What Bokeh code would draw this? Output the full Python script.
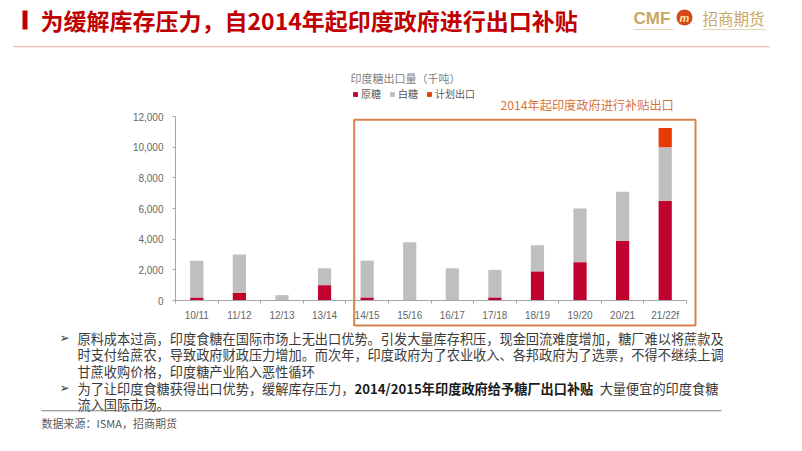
from bokeh.plotting import figure
from bokeh.models import Range1d, FixedTicker, Label, BoxAnnotation, ColumnDataSource
from bokeh.embed import file_html
from bokeh.resources import INLINE

# ---------------- data ----------------
categories = ["10/11", "11/12", "12/13", "13/14", "14/15", "15/16",
              "16/17", "17/18", "18/19", "19/20", "20/21", "21/22f"]
raw_sugar = [200, 500, 0, 1000, 200, 0, 0, 200, 1900, 2500, 3900, 6500]
white_sugar = [2400, 2500, 350, 1100, 2400, 3800, 2100, 1800, 1700, 3500, 3200, 3500]
planned_export = [0, 0, 0, 0, 0, 0, 0, 0, 0, 0, 0, 1250]
series_names = ["原糖", "白糖", "计划出口"]
y_ticks = [0, 2000, 4000, 6000, 8000, 10000, 12000]
y_tick_labels = ["0", "2,000", "4,000", "6,000", "8,000", "10,000", "12,000"]

title_text = "为缓解库存压力，自2014年起印度政府进行出口补贴"
chart_title = "印度糖出口量（千吨）"
box_note = "2014年起印度政府进行补贴出口"
bullet1_lines = ["原料成本过高，印度食糖在国际市场上无出口优势。引发大量库存积压，现金回流难度增加，糖厂难以将蔗款及",
                 "时支付给蔗农，导致政府财政压力增加。而次年，印度政府为了农业收入、各邦政府为了选票，不得不继续上调",
                 "甘蔗收购价格，印度糖产业陷入恶性循环"]
bullet2_parts = ["为了让印度食糖获得出口优势，缓解库存压力，", "2014/2015年印度政府给予糖厂出口补贴", "。大量便宜的印度食糖"]
bullet2_line2 = "流入国际市场。"
source_text = "数据来源：ISMA，招商期货"

# ---------------- layout ----------------
W, H = 786, 435
# chart area (canvas pixels)
CL, CR, CT, CB = 175, 686, 116, 300
NCAT = len(categories)
YMAX = 12000
ux = (CR - CL) / NCAT          # px per category
uy = (CB - CT) / YMAX          # px per unit

RED = "#C0002F"
GREY = "#BFBFBF"
ORANGE = "#E53C06"
BOX = "#D8834E"
GOLD = "#C9A765"
CJK = "Noto Sans CJK SC"

p = figure(width=W, height=H,
           x_range=Range1d(-CL / ux, NCAT + (W - CR) / ux),
           y_range=Range1d(-(H - CB) / uy, YMAX + CT / uy),
           output_backend="svg", toolbar_location=None,
           min_border_left=0, min_border_right=0, min_border_top=0, min_border_bottom=0)
p.extra_x_ranges = {"px": Range1d(0, W)}
p.extra_y_ranges = {"py": Range1d(H, 0)}
p.outline_line_color = None
p.xgrid.visible = False
p.ygrid.visible = False
p.background_fill_color = "white"
p.border_fill_color = "white"

xs = [i + 0.5 for i in range(NCAT)]
src = ColumnDataSource(dict(x=xs, raw=raw_sugar, white=white_sugar, plan=planned_export))
p.vbar_stack(["raw", "white", "plan"], x="x", width=0.31, source=src,
             fill_color=[RED, GREY, ORANGE], line_color=None, legend_label=series_names)

# axes (drawn at the data origin, inside the full-canvas frame)
p.xaxis.fixed_location = 0
p.xaxis.bounds = (0, NCAT)
p.xaxis.ticker = FixedTicker(ticks=xs, minor_ticks=list(range(NCAT + 1)))
p.xaxis.major_label_overrides = {x: c for x, c in zip(xs, categories)}
p.xaxis.major_tick_line_color = None
p.xaxis.major_tick_out = 0
p.xaxis.major_tick_in = 0
p.xaxis.minor_tick_out = 3
p.xaxis.minor_tick_in = 0
p.xaxis.minor_tick_line_color = "#A6A6A6"
p.xaxis.axis_line_color = "#A6A6A6"
p.xaxis.major_label_standoff = 6

p.yaxis.fixed_location = 0
p.yaxis.bounds = (0, YMAX)
p.yaxis.ticker = FixedTicker(ticks=y_ticks)
p.yaxis.major_label_overrides = dict(zip(y_ticks, y_tick_labels))
p.yaxis.major_tick_out = 3
p.yaxis.major_tick_in = 0
p.yaxis.minor_tick_line_color = None
p.yaxis.major_tick_line_color = "#A6A6A6"
p.yaxis.axis_line_color = "#A6A6A6"
p.yaxis.major_label_standoff = 9

for ax in (p.xaxis, p.yaxis):
    ax.major_label_text_font = "Liberation Sans"
    ax.major_label_text_font_size = "10px"
    ax.major_label_text_color = "#666666"

# legend
lg = p.legend[0]
lg.orientation = "horizontal"
lg.location = (352, H - 101)
lg.background_fill_alpha = 0
lg.border_line_color = None
lg.glyph_width = 6
lg.glyph_height = 6
lg.label_text_font = CJK
lg.label_text_font_size = "10px"
lg.label_text_color = "#595959"
lg.label_standoff = 3
lg.spacing = 8
lg.padding = 0
lg.margin = 0
lg.label_height = 10


def box(l, r, t, b, fill=None, line=None, lw=1, **kw):
    p.add_layout(BoxAnnotation(left=l, right=r, top=t, bottom=b, x_range_name="px", y_range_name="py",
                               fill_color=fill, fill_alpha=1 if fill else 0,
                               line_color=line, line_alpha=1 if line else 0, line_width=lw, **kw))


def label(x, y, text, size, color, font=CJK, style="normal", align="left"):
    p.add_layout(Label(x=x, y=y, text=text, x_range_name="px", y_range_name="py",
                       text_font=font, text_font_size=size, text_color=color, text_font_style=style,
                       text_align=align, text_baseline="middle"))


# header
box(22, 27, 10, 29, fill="#C00000")
label(40, 19.5, title_text, "23px", "#C00000", style="bold")
box(12.7, 769, 45.8, 46.8, fill="#F2A0A0")

# logo
label(633, 17.5, "CMF", "17px", GOLD, font="Liberation Sans", style="bold")
box(676, 692, 9, 25, fill="#D4481A", border_radius=8)
label(684, 17, "m", "11px", "#FFE9A0", font="Liberation Sans", style="bold italic", align="center")
label(702, 17.5, "招商期货", "15.5px", GOLD)
box(633, 673, 28.6, 29.4, fill="#E6D6B0")
box(702, 765, 28.6, 29.4, fill="#E6D6B0")

# chart annotations
label(350, 77, chart_title, "11px", "#7F7F7F")
label(500, 104.5, box_note, "12.2px", "#D9733A")
box(353.7, 695, 119.3, 325, line=BOX, lw=2)

# bullets
rows = [337.5, 354, 370.5, 387.5, 404]
FS = "13.2px"
TXT = "#3A3A3A"
label(59, rows[0], "➢", "12px", TXT, font="DejaVu Sans")
label(59, rows[3], "➢", "12px", TXT, font="DejaVu Sans")
for y, t in zip(rows[:3], bullet1_lines):
    label(77, y, t, FS, TXT)
label(77, rows[3], bullet2_parts[0], FS, TXT)
label(354, rows[3], bullet2_parts[1], FS, "#1A1A1A", style="bold")
label(586, rows[3], bullet2_parts[2], FS, TXT)
label(77, rows[4], bullet2_line2, FS, TXT)

# footer
box(41, 721, 409.7, 410.7, fill="#7F7F7F")
label(41, 422.5, source_text, "11px", "#595959")

open("out.html", "w").write(file_html(p, INLINE))
